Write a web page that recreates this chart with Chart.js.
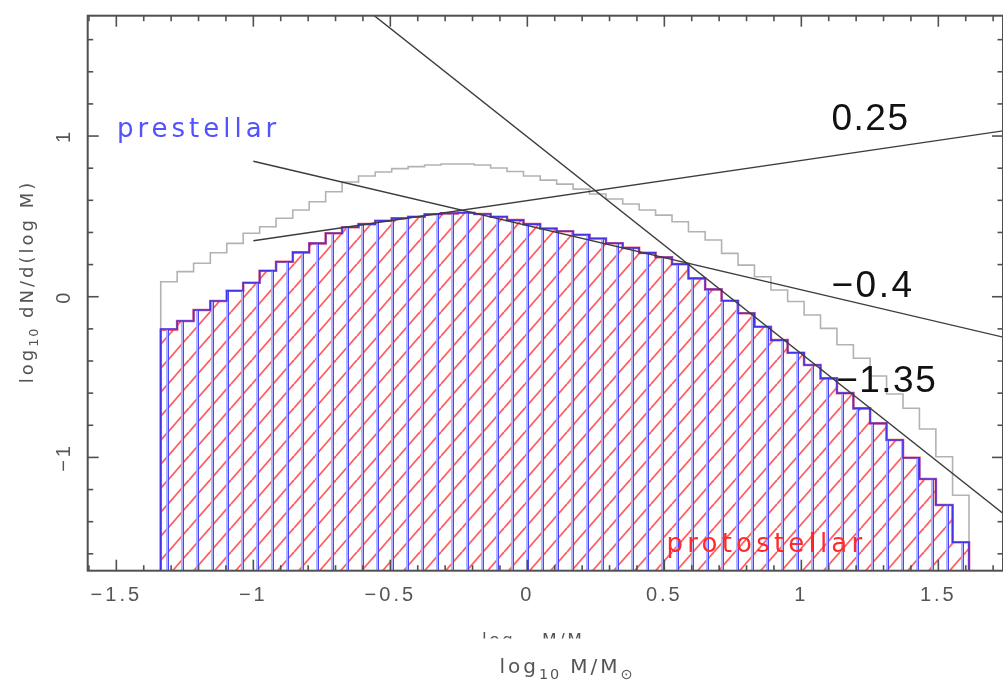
<!DOCTYPE html>
<html>
<head>
<meta charset="utf-8">
<script src="https://cdn.jsdelivr.net/npm/chart.js@4.4.1/dist/chart.umd.min.js"></script>
<style>
html,body{margin:0;padding:0;background:#fff;overflow:hidden}
canvas{display:block}
</style>
</head>
<body>
<canvas id="c" width="1003" height="685"></canvas>
<script>
// ---------------- data ----------------
// log10 M/Msun bin edges (49 bins)
const massEdges = [-1.338,-1.278,-1.218,-1.157,-1.097,-1.037,-0.977,-0.917,-0.856,-0.796,
  -0.736,-0.676,-0.616,-0.555,-0.495,-0.435,-0.375,-0.315,-0.254,-0.194,
  -0.134,-0.074,-0.014,0.047,0.107,0.167,0.227,0.287,0.348,0.408,
  0.468,0.528,0.588,0.649,0.709,0.769,0.829,0.889,0.950,1.010,
  1.070,1.130,1.190,1.251,1.311,1.371,1.431,1.491,1.552,1.612];

// log10 dN/d(log M) per bin
const prestellar = [-0.201,-0.151,-0.083,-0.027,0.037,0.087,0.162,0.218,0.276,0.332,
  0.395,0.432,0.452,0.473,0.488,0.498,0.513,0.519,0.523,0.515,
  0.498,0.477,0.452,0.425,0.408,0.386,0.362,0.333,0.304,0.273,
  0.246,0.203,0.114,0.046,-0.025,-0.103,-0.187,-0.270,-0.349,-0.425,
  -0.508,-0.600,-0.695,-0.788,-0.892,-1.002,-1.134,-1.296,-1.528];

const protostellar = [-0.205,-0.151,-0.083,-0.027,0.037,0.087,0.162,0.218,0.276,0.332,
  0.395,0.432,0.452,0.473,0.488,0.498,0.513,0.519,0.523,0.515,
  0.498,0.477,0.452,0.425,0.408,0.386,0.362,0.333,0.304,0.273,
  0.246,0.203,0.114,0.046,-0.025,-0.103,-0.187,-0.270,-0.349,-0.425,
  -0.508,-0.600,-0.695,-0.788,-0.892,-1.002,-1.134,-1.296,-1.528];

const allCores = [0.093,0.156,0.208,0.274,0.332,0.395,0.436,0.488,0.540,0.591,
  0.653,0.714,0.751,0.776,0.797,0.810,0.820,0.826,0.826,0.820,
  0.801,0.779,0.751,0.726,0.701,0.670,0.639,0.608,0.577,0.540,
  0.508,0.467,0.404,0.353,0.270,0.197,0.124,0.042,-0.030,-0.114,
  -0.197,-0.299,-0.383,-0.493,-0.605,-0.694,-0.823,-0.996,-1.235];

// power-law reference lines: y = intercept + slope * x
const slopeLabels = ['0.25', '\u22120.4', '\u22121.35'];
const slopeValues = [0.25, -0.4, -1.35];
const slopeIntercepts = [0.598, 0.443, 0.995];
const slopeStartX = [-1.0, -1.0, -0.6];

const xTickValues = [-1.5, -1, -0.5, 0, 0.5, 1, 1.5];
const xTickLabels = ['\u22121.5', '\u22121', '\u22120.5', '0', '0.5', '1', '1.5'];
const yTickValues = [-1, 0, 1];
const yTickLabels = ['\u22121', '0', '1'];

// ---------------- axis ranges ----------------
const X_MIN = -1.6045, X_MAX = 1.736;
const Y_MIN = -1.705, Y_MAX = 1.749;

// ---------------- helpers ----------------
function histPoints(values) {
  const pts = [{x: massEdges[0], y: Y_MIN}];
  values.forEach((v, i) => {
    pts.push({x: massEdges[i], y: v});
    pts.push({x: massEdges[i + 1], y: v});
  });
  pts.push({x: massEdges[values.length], y: Y_MIN});
  return pts;
}
function linePoints(i) {
  const xs = [slopeStartX[i], X_MAX + 0.05];
  return xs.map(x => ({x: x, y: slopeIntercepts[i] + slopeValues[i] * x}));
}
function verticalHatch() {
  const c = document.createElement('canvas');
  c.width = 15; c.height = 15;
  const g = c.getContext('2d');
  g.fillStyle = 'rgba(170,170,255,0.9)';
  g.fillRect(1, 0, 2, 15);
  g.fillStyle = 'rgba(70,70,255,1)';
  g.fillRect(3, 0, 1, 15);
  return g.createPattern(c, 'repeat');
}
function diagonalHatch() {
  const w = 21, h = 24;
  const c = document.createElement('canvas');
  c.width = w; c.height = h;
  const g = c.getContext('2d');
  g.strokeStyle = 'rgba(255,85,85,0.95)';
  g.lineWidth = 1.8;
  for (const dx of [-w, 0, w]) {
    g.beginPath(); g.moveTo(dx, h); g.lineTo(dx + w, 0); g.stroke();
  }
  return g.createPattern(c, 'repeat');
}
function drawRich(ctx, parts, x, y, o) {
  ctx.save();
  ctx.translate(x, y);
  ctx.rotate(o.rot || 0);
  ctx.fillStyle = o.color;
  ctx.textBaseline = 'alphabetic';
  ctx.textAlign = 'left';
  const spec = parts.map(p => {
    const s = p.sub ? o.size * 0.72 : o.size;
    const ls = p.sub ? o.ls * 0.6 : o.ls;
    ctx.font = s + 'px ' + o.family;
    ctx.letterSpacing = ls + 'px';
    return {p: p, s: s, ls: ls, w: ctx.measureText(p.t).width};
  });
  const total = spec.reduce((a, b) => a + b.w, 0);
  let cx = o.align === 'left' ? 0 : -total / 2;
  for (const q of spec) {
    ctx.font = q.s + 'px ' + o.family;
    ctx.letterSpacing = q.ls + 'px';
    ctx.fillText(q.p.t, cx, q.p.sub ? o.size * 0.3 : 0);
    cx += q.w;
  }
  ctx.restore();
}

// annotation texts (position in data coordinates)
const annotations = [
  {text: 'prestellar', x: -1.498, y: 0.996, font: '26px "DejaVu Sans"', color: '#5252ff', ls: 4.0},
  {text: slopeLabels[0], x: 1.110, y: 1.037, font: '37px "Liberation Sans"', color: '#111', ls: 1.5},
  {text: slopeLabels[1], x: 1.110, y: 0.0, font: '37px "Liberation Sans"', color: '#111', ls: 2.5},
  {text: slopeLabels[2], x: 1.127, y: -0.591, font: '37px "Liberation Sans"', color: '#111', ls: 1.5},
  {text: 'protostellar', x: 0.508, y: -1.586, font: '26px "DejaVu Sans"', color: '#ff2a2a', ls: 4.2}
];

const decor = {
  id: 'decor',
  beforeDraw(chart) { chart.ctx.letterSpacing = '3px'; },
  beforeDatasetsDraw(chart) { chart.ctx.letterSpacing = '0px'; },
  afterDatasetsDraw(chart) {
    const {ctx, chartArea: a, scales: {x, y}} = chart;
    ctx.save();
    ctx.strokeStyle = '#505050';
    ctx.lineWidth = 2;
    ctx.strokeRect(a.left, a.top, a.right - a.left, a.bottom - a.top);
    ctx.lineWidth = 1.6;
    const seg = (x1, y1, x2, y2) => { ctx.beginPath(); ctx.moveTo(x1, y1); ctx.lineTo(x2, y2); ctx.stroke(); };
    for (let k = Math.ceil(X_MIN * 10); k <= Math.floor(X_MAX * 10); k++) {
      const px = x.getPixelForValue(k / 10);
      const len = (k % 5 === 0) ? 11 : 5.5;
      seg(px, a.bottom, px, a.bottom - len);
      seg(px, a.top, px, a.top + len);
    }
    for (let k = Math.ceil(Y_MIN * 5); k <= Math.floor(Y_MAX * 5); k++) {
      const py = y.getPixelForValue(k / 5);
      const len = (k % 5 === 0) ? 11 : 5.5;
      seg(a.left, py, a.left + len, py);
      seg(a.right, py, a.right - len, py);
    }
    ctx.restore();
  },
  afterDraw(chart) {
    const {ctx, scales: {x, y}} = chart;
    ctx.save();
    // rotated y tick labels
    ctx.fillStyle = '#555';
    ctx.font = '20px "Liberation Sans"';
    ctx.letterSpacing = '3px';
    yTickValues.forEach((v, i) => {
      ctx.save();
      ctx.translate(64, y.getPixelForValue(v));
      ctx.rotate(-Math.PI / 2);
      ctx.textAlign = 'center';
      ctx.textBaseline = 'middle';
      ctx.fillText(yTickLabels[i], 0, 0);
      ctx.restore();
    });
    // axis titles
    drawRich(ctx, [{t: 'log'}, {t: '10', sub: true}, {t: ' M/M'}, {t: '\u2299', sub: true}],
      567, 673, {size: 20, family: '"DejaVu Sans"', color: '#555', ls: 3});
    drawRich(ctx, [{t: 'log'}, {t: '10', sub: true}, {t: ' dN/d(log M)'}],
      33, 281.5, {size: 18, family: '"DejaVu Sans"', color: '#555', ls: 3, rot: -Math.PI / 2});
    // clipped duplicate of x title (artifact in reference)
    ctx.save();
    ctx.beginPath();
    ctx.rect(470, 628, 170, 10.5);
    ctx.clip();
    drawRich(ctx, [{t: 'log'}, {t: '10', sub: true}, {t: ' M/M'}, {t: '\u2299', sub: true}],
      482, 645.5, {size: 17, family: '"DejaVu Sans"', color: '#555', ls: 2.5, align: 'left'});
    ctx.restore();
    // annotations
    ctx.textAlign = 'left';
    ctx.textBaseline = 'alphabetic';
    for (const an of annotations) {
      ctx.font = an.font;
      ctx.fillStyle = an.color;
      ctx.letterSpacing = an.ls + 'px';
      ctx.fillText(an.text, x.getPixelForValue(an.x), y.getPixelForValue(an.y));
    }
    ctx.restore();
  }
};

Chart.defaults.font.family = '"Liberation Sans", Arial, sans-serif';

new Chart(document.getElementById('c'), {
  type: 'line',
  data: {
    datasets: [
      {label: '0.25', data: linePoints(0), borderColor: '#3c3c3c', borderWidth: 1.4, fill: false, order: 0},
      {label: '-0.4', data: linePoints(1), borderColor: '#3c3c3c', borderWidth: 1.4, fill: false, order: 0},
      {label: '-1.35', data: linePoints(2), borderColor: '#3c3c3c', borderWidth: 1.4, fill: false, order: 0},
      {label: 'prestellar', data: histPoints(prestellar), borderColor: 'rgba(60,50,235,0.95)', borderWidth: 1.6,
        backgroundColor: verticalHatch(), fill: 'start', order: 1},
      {label: 'protostellar', data: histPoints(protostellar), borderColor: 'rgba(235,60,90,0.8)', borderWidth: 2.6,
        backgroundColor: diagonalHatch(), fill: 'start', order: 2},
      {label: 'all', data: histPoints(allCores), borderColor: '#b2b2b2', borderWidth: 1.6, fill: false, order: 3}
    ]
  },
  options: {
    responsive: false,
    animation: false,
    devicePixelRatio: 1,
    elements: {point: {radius: 0}, line: {tension: 0, borderJoinStyle: 'miter'}},
    layout: {padding: {top: 15.7, right: -2, left: 0, bottom: 0}},
    plugins: {legend: {display: false}, tooltip: {enabled: false}, title: {display: false}},
    scales: {
      x: {
        type: 'linear', min: X_MIN, max: X_MAX,
        grid: {display: false, drawTicks: false}, border: {display: false},
        ticks: {padding: 13, color: '#555', font: {size: 20}, autoSkip: false, maxRotation: 0,
          callback: (v, i) => xTickLabels[i]},
        afterBuildTicks: s => { s.ticks = xTickValues.map(v => ({value: v})); },
        afterFit: s => { s.height = 114.3; }
      },
      y: {
        type: 'linear', min: Y_MIN, max: Y_MAX,
        grid: {display: false, drawTicks: false}, border: {display: false},
        ticks: {display: false},
        afterFit: s => { s.width = 87.7; }
      }
    }
  },
  plugins: [decor]
});
</script>
</body>
</html>
